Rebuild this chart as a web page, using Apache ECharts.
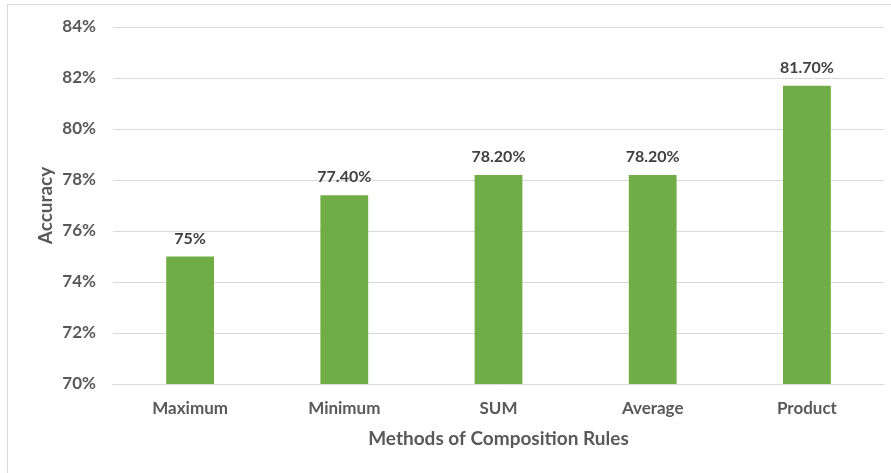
<!DOCTYPE html>
<html>
<head>
<meta charset="utf-8">
<script src="https://cdn.jsdelivr.net/npm/echarts@6/dist/echarts.min.js"></script>
<style>
  html, body { margin: 0; padding: 0; background: #fff; }
  #chart { width: 891px; height: 473px; }
</style>
</head>
<body>
<div id="chart"></div>
<script>
// Composition rule methods and their accuracy (%)
const categories = ['Maximum', 'Minimum', 'SUM', 'Average', 'Product'];
const accuracy = [75, 77.4, 78.2, 78.2, 81.7];
const yTicks = { min: 70, max: 84, step: 2 };

const textColor = '#595959';
const fontFamily = 'Lato, "Open Sans", sans-serif';

function fmtValue(v) {
  return Number.isInteger(v) ? v + '%' : v.toFixed(2) + '%';
}

const chart = echarts.init(document.getElementById('chart'), null, { renderer: 'canvas' });
chart.setOption({
  backgroundColor: '#ffffff',
  animation: false,
  graphic: [{
    type: 'rect',
    shape: { x: 7.5, y: 4.5, width: 900, height: 500 },
    style: { fill: 'none', stroke: '#D9D9D9', lineWidth: 1 },
    silent: true
  }],
  grid: { left: 113, right: 7, top: 27, bottom: 89 },
  xAxis: {
    type: 'category',
    data: categories,
    name: 'Methods of Composition Rules',
    nameLocation: 'middle',
    nameGap: 45,
    nameMoveOverlap: false,
    nameTextStyle: { color: textColor, fontSize: 19, fontWeight: 'bold', fontFamily },
    axisLine: { show: true, lineStyle: { color: '#D9D9D9', width: 1 } },
    axisTick: { show: false },
    axisLabel: { color: textColor, fontSize: 17, fontWeight: 'bold', fontFamily, margin: 16 }
  },
  yAxis: {
    type: 'value',
    min: yTicks.min,
    max: yTicks.max,
    interval: yTicks.step,
    name: 'Accuracy',
    nameLocation: 'middle',
    nameGap: 58,
    nameMoveOverlap: false,
    nameRotate: 90,
    nameTextStyle: { color: textColor, fontSize: 19, fontWeight: 'bold', fontFamily },
    axisLine: { show: false },
    axisTick: { show: false },
    splitLine: { lineStyle: { color: '#D9D9D9', width: 1 } },
    axisLabel: {
      color: textColor, fontSize: 17, fontWeight: 'bold', fontFamily, margin: 17,
      formatter: v => v + '%'
    }
  },
  series: [{
    type: 'bar',
    data: accuracy,
    barWidth: '31%',
    itemStyle: { color: '#70AD47' },
    label: {
      show: true,
      position: 'top',
      distance: 10,
      color: '#404040',
      fontSize: 16,
      fontWeight: 'bold',
      fontFamily,
      formatter: p => fmtValue(p.value)
    }
  }]
});
</script>
</body>
</html>
